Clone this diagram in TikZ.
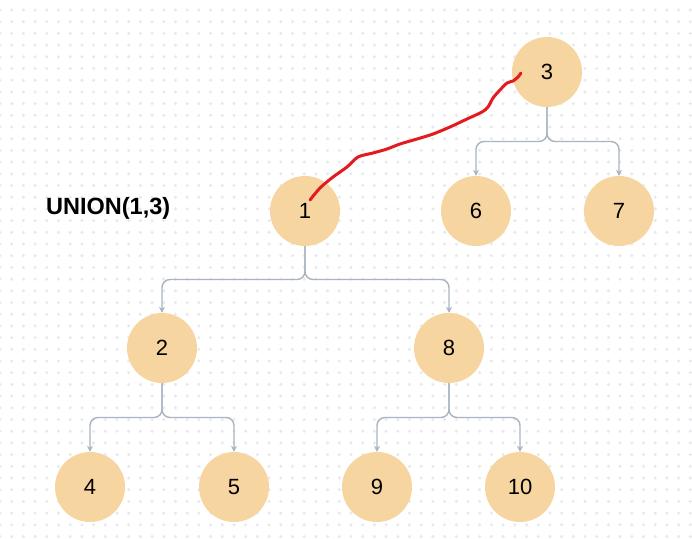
\documentclass[tikz,border=0pt]{standalone}
\usepackage{fontspec}
\setmainfont{Liberation Sans}
\usetikzlibrary{arrows.meta,calc}
\definecolor{nodefill}{HTML}{F6D5A1}
\definecolor{connclr}{HTML}{A9B4BF}
\definecolor{dotclr}{HTML}{E8E9EC}
\definecolor{redline}{HTML}{E31B1F}
\tikzset{
  treenode/.style={circle,fill=nodefill,draw=none,minimum size=70pt,inner sep=0pt,font=\fontsize{22}{26}\selectfont},
  conn/.style={draw=connclr,line width=1.4pt,rounded corners=8pt,-{Stealth[length=6pt,width=6pt]}},
  title/.style={font=\fontsize{23.5}{28}\bfseries\selectfont,inner sep=0pt},
  redpath/.style={draw=redline,line width=3pt,line cap=round,line join=round}
}
\begin{document}
\begin{tikzpicture}[x=1pt,y=-1pt]
\useasboundingbox (0,0) rectangle (692,538);
\fill[white] (0,0) rectangle (692,538);
\foreach \i in {0,...,59}{
  \foreach \j in {0,...,45}{
    \fill[dotclr] ({11.7*\i},{10+11.7*\j}) circle (1.7pt);
  }
}
\node[treenode] (n3) at (547,72) {3};
\node[treenode] (n1) at (305,211) {1};
\node[treenode] (n6) at (476,211) {6};
\node[treenode] (n7) at (619,211) {7};
\node[treenode] (n2) at (162,348) {2};
\node[treenode] (n8) at (449,348) {8};
\node[treenode] (n4) at (90,487) {4};
\node[treenode] (n5) at (234,487) {5};
\node[treenode] (n9) at (377,487) {9};
\node[treenode] (n10) at (520,487) {10};
\node[title,anchor=base west] (union) at (46,214) {UNION(1,3)};
\foreach \p/\c in {n3/n6,n3/n7,n1/n2,n1/n8,n2/n4,n2/n5,n8/n9,n8/n10}{
  \draw[conn] (\p.south) |- ($(\p.south)!.5!(\c.north)$) -| (\c.north);
}
\draw[redpath] plot[smooth,tension=0.5] coordinates {
 (310,200) (320,188) (333,177) (347,167) (358,157) (373,153) (387,149)
 (400,144) (417,139) (433,134) (450,127) (467,119) (482,112) (488,107)
 (493,98) (500,90) (507,83) (513,81) (518,77) (521,73)};
\end{tikzpicture}
\end{document}
